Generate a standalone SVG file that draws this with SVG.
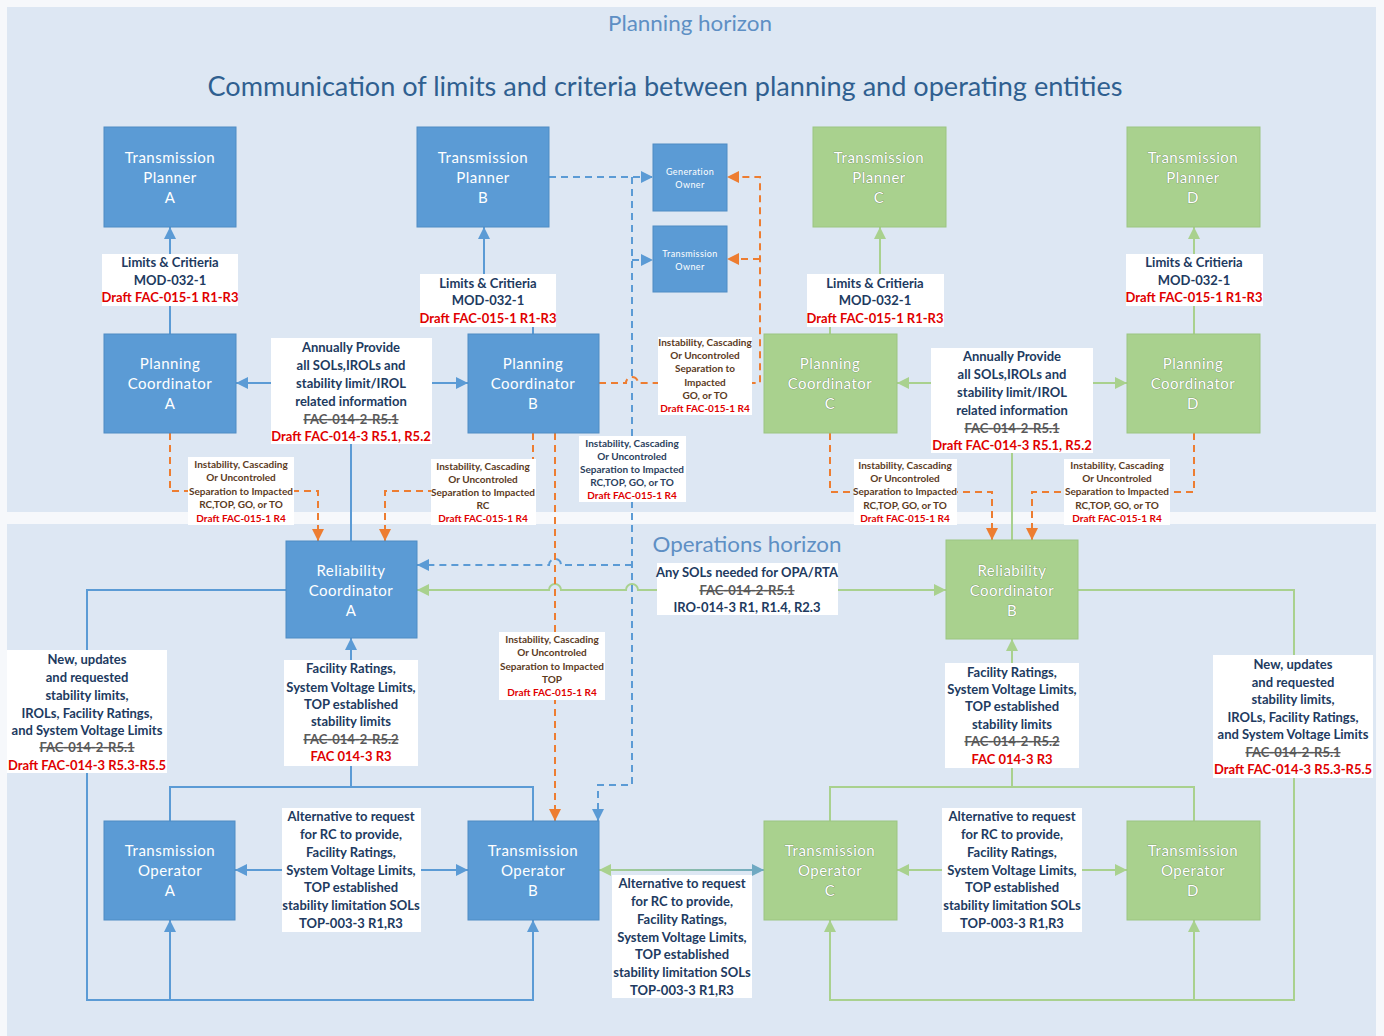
<svg xmlns="http://www.w3.org/2000/svg" width="1384" height="1036" viewBox="0 0 1384 1036">
<defs>
<style>
.bn{fill:#5b9bd5;stroke:#4f8cc4;stroke-width:1}
.gn{fill:#a9d18e;stroke:#9cc581;stroke-width:1}
.nt{font-family:Lato,"Open Sans","Liberation Sans",sans-serif;font-size:15px;fill:#ffffff;text-anchor:middle;letter-spacing:0.5px}
.gt{font-family:Lato,"Open Sans","Liberation Sans",sans-serif;font-size:15px;fill:#ffffff;text-anchor:middle;letter-spacing:0.5px;stroke:#6f8f5e;stroke-width:0.7px;paint-order:stroke}
.st{font-family:Lato,"Open Sans","Liberation Sans",sans-serif;font-size:9px;fill:#ffffff;text-anchor:middle;letter-spacing:0.4px}
.lb{fill:#ffffff}
.lt{font-family:Lato,"Liberation Sans",sans-serif;font-size:13px;font-weight:bold;fill:#213a60;text-anchor:middle}
.sm{font-family:Lato,"Liberation Sans",sans-serif;font-size:10px;font-weight:bold;fill:#5c3b1e;text-anchor:middle}
.smb{font-family:Lato,"Liberation Sans",sans-serif;font-size:10px;font-weight:bold;fill:#2c3f5e;text-anchor:middle}
.red{fill:#e00000}
.stk{fill:#5a5a5a;text-decoration:line-through}
.sb{fill:none;stroke:#5b9bd5;stroke-width:2}
.sg{fill:none;stroke:#a9d18e;stroke-width:2}
.db{fill:none;stroke:#5b9bd5;stroke-width:2;stroke-dasharray:7 5}
.do{fill:none;stroke:#ed7d31;stroke-width:2;stroke-dasharray:7 5}
.ttl{font-family:Lato,"Open Sans","Liberation Sans",sans-serif;fill:#5e8fc4;text-anchor:middle}
</style>
<marker id="ab" viewBox="0 0 12 12" refX="12" refY="6" markerWidth="12" markerHeight="12" markerUnits="userSpaceOnUse" orient="auto"><path d="M0,0 L12,6 L0,12 z" fill="#5b9bd5"/></marker>
<marker id="ag" viewBox="0 0 12 12" refX="12" refY="6" markerWidth="12" markerHeight="12" markerUnits="userSpaceOnUse" orient="auto"><path d="M0,0 L12,6 L0,12 z" fill="#a9d18e"/></marker>
<marker id="ao" viewBox="0 0 12 12" refX="12" refY="6" markerWidth="12" markerHeight="12" markerUnits="userSpaceOnUse" orient="auto"><path d="M0,0 L12,6 L0,12 z" fill="#ed7d31"/></marker>
<marker id="at" viewBox="0 0 12 12" refX="12" refY="6" markerWidth="12" markerHeight="12" markerUnits="userSpaceOnUse" orient="auto"><path d="M0,0 L12,6 L0,12 z" fill="#6fa9c2"/></marker>
<linearGradient id="tg" gradientUnits="userSpaceOnUse" x1="599" y1="0" x2="764" y2="0"><stop offset="0" stop-color="#a9d18e"/><stop offset="1" stop-color="#6fa9c2"/></linearGradient>
</defs>

<rect x="0" y="0" width="1384" height="1036" fill="#f6f8fb"/>
<rect x="7" y="7" width="1369" height="505" fill="#dde7f3"/>
<rect x="7" y="524" width="1369" height="512" fill="#dde7f3"/>

<text class="ttl" x="690" y="31" font-size="21" textLength="164" lengthAdjust="spacingAndGlyphs">Planning horizon</text>
<text x="665" y="96" font-family="Lato,'Open Sans','Liberation Sans',sans-serif" font-size="26" fill="#2f5f90" text-anchor="middle" textLength="915" lengthAdjust="spacingAndGlyphs">Communication of limits and criteria between planning and operating entities</text>
<text class="ttl" x="747" y="552" font-size="21" textLength="189" lengthAdjust="spacingAndGlyphs">Operations horizon</text>

<g id="connectors">
<path class="sb" d="M170,334 V227" marker-end="url(#ab)"/>
<path class="sb" d="M533,334 V300 H484 V227" marker-end="url(#ab)"/>
<path class="sb" d="M351,541 V383 H236" marker-end="url(#ab)"/>
<path class="sb" d="M351,383 H468" marker-end="url(#ab)"/>
<path class="sb" d="M286,590 H87 V1000 H533 V920" marker-end="url(#ab)"/>
<path class="sb" d="M170,1000 V920" marker-end="url(#ab)"/>
<path class="sb" d="M170,821 V787 H533 V821"/>
<path class="sb" d="M351,787 V638" marker-end="url(#ab)"/>
<path class="sb" d="M351,870 H235" marker-end="url(#ab)"/>
<path class="sb" d="M351,870 H468" marker-end="url(#ab)"/>
<path class="sg" d="M830,334 V300 H880 V227" marker-end="url(#ag)"/>
<path class="sg" d="M1194,334 V227" marker-end="url(#ag)"/>
<path class="sg" d="M1012,540 V383 H897" marker-end="url(#ag)"/>
<path class="sg" d="M1012,383 H1127" marker-end="url(#ag)"/>
<path class="sg" d="M700,590 H946" marker-end="url(#ag)"/>
<path class="sg" d="M700,590 H638 A6,6 0 0 0 626,590 H561 A6,6 0 0 0 549,590 H417" marker-end="url(#ag)"/>
<path class="sg" d="M1078,590 H1294 V1000 H830 V920" marker-end="url(#ag)"/>
<path class="sg" d="M1194,1000 V920" marker-end="url(#ag)"/>
<path class="sg" d="M830,821 V787 H1194 V821"/>
<path class="sg" d="M1012,787 V639" marker-end="url(#ag)"/>
<path class="sg" d="M1012,870 H897" marker-end="url(#ag)"/>
<path class="sg" d="M1012,870 H1127" marker-end="url(#ag)"/>
<path d="M682,870 H599" fill="none" stroke="url(#tg)" stroke-width="2" marker-end="url(#ag)"/>
<path d="M682,870 H764" fill="none" stroke="url(#tg)" stroke-width="2" marker-end="url(#at)"/>
<path class="do" d="M170,433 V491 H318 V541" marker-end="url(#ao)"/>
<path class="do" d="M533,433 V491 H385 V541" marker-end="url(#ao)"/>
<path class="do" d="M555,433 V821" marker-end="url(#ao)"/>
<path class="do" d="M599,383 H626 A6,6 0 0 1 638,383 H760 V177 H727" marker-end="url(#ao)"/>
<path class="do" d="M760,259 H727" marker-end="url(#ao)"/>
<path class="do" d="M830,433 V492 H992 V540" marker-end="url(#ao)"/>
<path class="do" d="M1194,433 V492 H1032 V540" marker-end="url(#ao)"/>
<path class="db" d="M549,177 H653" marker-end="url(#ab)"/>
<path class="db" d="M632,177 V785 H598 V821" marker-end="url(#ab)"/>
<path class="db" d="M632,260 H653" marker-end="url(#ab)"/>
<path class="db" d="M632,565 H561 A6,6 0 0 0 549,565 H417" marker-end="url(#ab)"/>

<g id="lbl-tpa">
<rect class="lb" x="102" y="254" width="136" height="52"/>
<text class="lt"><tspan x="170" y="267">Limits &amp; Critieria</tspan><tspan x="170" y="285">MOD-032-1</tspan><tspan class="red" x="170" y="302">Draft FAC-015-1 R1-R3</tspan></text>
</g>
<g id="lbl-tpb">
<rect class="lb" x="420" y="274" width="136" height="53"/>
<text class="lt"><tspan x="488" y="288">Limits &amp; Critieria</tspan><tspan x="488" y="305">MOD-032-1</tspan><tspan class="red" x="488" y="323">Draft FAC-015-1 R1-R3</tspan></text>
</g>
<g id="lbl-tpc">
<rect class="lb" x="807" y="274" width="137" height="53"/>
<text class="lt"><tspan x="875" y="288">Limits &amp; Critieria</tspan><tspan x="875" y="305">MOD-032-1</tspan><tspan class="red" x="875" y="323">Draft FAC-015-1 R1-R3</tspan></text>
</g>
<g id="lbl-tpd">
<rect class="lb" x="1126" y="254" width="137" height="52"/>
<text class="lt"><tspan x="1194" y="267">Limits &amp; Critieria</tspan><tspan x="1194" y="285">MOD-032-1</tspan><tspan class="red" x="1194" y="302">Draft FAC-015-1 R1-R3</tspan></text>
</g>
<g id="lbl-annual-ab">
<rect class="lb" x="271" y="338" width="161" height="106"/>
<text class="lt"><tspan x="351" y="352">Annually Provide</tspan><tspan x="351" y="370">all SOLs,IROLs and</tspan><tspan x="351" y="388">stability limit/IROL</tspan><tspan x="351" y="406">related information</tspan><tspan class="stk" x="351" y="424">FAC-014-2-R5.1</tspan><tspan class="red" x="351" y="441">Draft FAC-014-3 R5.1, R5.2</tspan></text>
</g>
<g id="lbl-annual-cd">
<rect class="lb" x="931" y="348" width="162" height="105"/>
<text class="lt"><tspan x="1012" y="361">Annually Provide</tspan><tspan x="1012" y="379">all SOLs,IROLs and</tspan><tspan x="1012" y="397">stability limit/IROL</tspan><tspan x="1012" y="415">related information</tspan><tspan class="stk" x="1012" y="433">FAC-014-2-R5.1</tspan><tspan class="red" x="1012" y="450">Draft FAC-014-3 R5.1, R5.2</tspan></text>
</g>
<g id="lbl-pca-rca">
<rect class="lb" x="188" y="457" width="106" height="68"/>
<text class="sm"><tspan x="241" y="468">Instability, Cascading</tspan><tspan x="241" y="481">Or Uncontroled</tspan><tspan x="241" y="495">Separation to Impacted</tspan><tspan x="241" y="508">RC,TOP, GO, or TO</tspan><tspan class="red" x="241" y="522">Draft FAC-015-1 R4</tspan></text>
</g>
<g id="lbl-pcb-rca">
<rect class="lb" x="431" y="459" width="105" height="66"/>
<text class="sm"><tspan x="483" y="470">Instability, Cascading</tspan><tspan x="483" y="483">Or Uncontroled</tspan><tspan x="483" y="496">Separation to Impacted</tspan><tspan x="483" y="509">RC</tspan><tspan class="red" x="483" y="522">Draft FAC-015-1 R4</tspan></text>
</g>
<g id="lbl-tpb-dashed">
<rect class="lb" x="579" y="436" width="107" height="66"/>
<text class="smb"><tspan x="632" y="447">Instability, Cascading</tspan><tspan x="632" y="460">Or Uncontroled</tspan><tspan x="632" y="473">Separation to Impacted</tspan><tspan x="632" y="486">RC,TOP, GO, or TO</tspan><tspan class="red" x="632" y="499">Draft FAC-015-1 R4</tspan></text>
</g>
<g id="lbl-pcb-go">
<rect class="lb" x="658" y="337" width="94" height="78"/>
<text class="sm"><tspan x="705" y="346">Instability, Cascading</tspan><tspan x="705" y="359">Or Uncontroled</tspan><tspan x="705" y="372">Separation to</tspan><tspan x="705" y="386">Impacted</tspan><tspan x="705" y="399">GO, or TO</tspan><tspan class="red" x="705" y="412">Draft FAC-015-1 R4</tspan></text>
</g>
<g id="lbl-pcc-rcb">
<rect class="lb" x="854" y="459" width="103" height="66"/>
<text class="sm"><tspan x="905" y="469">Instability, Cascading</tspan><tspan x="905" y="482">Or Uncontroled</tspan><tspan x="905" y="495">Separation to Impacted</tspan><tspan x="905" y="509">RC,TOP, GO, or TO</tspan><tspan class="red" x="905" y="522">Draft FAC-015-1 R4</tspan></text>
</g>
<g id="lbl-pcd-rcb">
<rect class="lb" x="1064" y="459" width="106" height="66"/>
<text class="sm"><tspan x="1117" y="469">Instability, Cascading</tspan><tspan x="1117" y="482">Or Uncontroled</tspan><tspan x="1117" y="495">Separation to Impacted</tspan><tspan x="1117" y="509">RC,TOP, GO, or TO</tspan><tspan class="red" x="1117" y="522">Draft FAC-015-1 R4</tspan></text>
</g>
<g id="lbl-pcb-tob">
<rect class="lb" x="499" y="632" width="106" height="68"/>
<text class="sm"><tspan x="552" y="643">Instability, Cascading</tspan><tspan x="552" y="656">Or Uncontroled</tspan><tspan x="552" y="670">Separation to Impacted</tspan><tspan x="552" y="683">TOP</tspan><tspan class="red" x="552" y="696">Draft FAC-015-1 R4</tspan></text>
</g>
<g id="lbl-rc-rc">
<rect class="lb" x="657" y="563" width="181" height="52"/>
<text class="lt" font-size="13.5"><tspan x="747" y="577">Any SOLs needed for OPA/RTA</tspan><tspan class="stk" x="747" y="595">FAC-014-2-R5.1</tspan><tspan x="747" y="612">IRO-014-3 R1, R1.4, R2.3</tspan></text>
</g>
<g id="lbl-new-a">
<rect class="lb" x="7" y="650" width="160" height="123"/>
<text class="lt"><tspan x="87" y="664">New, updates</tspan><tspan x="87" y="682">and requested</tspan><tspan x="87" y="700">stability limits,</tspan><tspan x="87" y="718">IROLs, Facility Ratings,</tspan><tspan x="87" y="735">and System Voltage Limits</tspan><tspan class="stk" x="87" y="752">FAC-014-2-R5.1</tspan><tspan class="red" x="87" y="770">Draft FAC-014-3 R5.3-R5.5</tspan></text>
</g>
<g id="lbl-fac-a">
<rect class="lb" x="284" y="660" width="134" height="106"/>
<text class="lt"><tspan x="351" y="673">Facility Ratings,</tspan><tspan x="351" y="692">System Voltage Limits,</tspan><tspan x="351" y="709">TOP established</tspan><tspan x="351" y="726">stability limits</tspan><tspan class="stk" x="351" y="744">FAC-014-2-R5.2</tspan><tspan class="red" x="351" y="761">FAC 014-3 R3</tspan></text>
</g>
<g id="lbl-fac-b">
<rect class="lb" x="945" y="663" width="134" height="105"/>
<text class="lt"><tspan x="1012" y="677">Facility Ratings,</tspan><tspan x="1012" y="694">System Voltage Limits,</tspan><tspan x="1012" y="711">TOP established</tspan><tspan x="1012" y="729">stability limits</tspan><tspan class="stk" x="1012" y="746">FAC-014-2-R5.2</tspan><tspan class="red" x="1012" y="764">FAC 014-3 R3</tspan></text>
</g>
<g id="lbl-new-b">
<rect class="lb" x="1213" y="655" width="160" height="123"/>
<text class="lt"><tspan x="1293" y="669">New, updates</tspan><tspan x="1293" y="687">and requested</tspan><tspan x="1293" y="704">stability limits,</tspan><tspan x="1293" y="722">IROLs, Facility Ratings,</tspan><tspan x="1293" y="739">and System Voltage Limits</tspan><tspan class="stk" x="1293" y="757">FAC-014-2-R5.1</tspan><tspan class="red" x="1293" y="774">Draft FAC-014-3 R5.3-R5.5</tspan></text>
</g>
<g id="lbl-alt-ab">
<rect class="lb" x="282" y="808" width="139" height="124"/>
<text class="lt"><tspan x="351" y="821">Alternative to request</tspan><tspan x="351" y="839">for RC to provide,</tspan><tspan x="351" y="857">Facility Ratings,</tspan><tspan x="351" y="875">System Voltage Limits,</tspan><tspan x="351" y="892">TOP established</tspan><tspan x="351" y="910">stability limitation SOLs</tspan><tspan x="351" y="928">TOP-003-3 R1,R3</tspan></text>
</g>
<g id="lbl-alt-bc">
<rect class="lb" x="612" y="875" width="140" height="123"/>
<text class="lt"><tspan x="682" y="888">Alternative to request</tspan><tspan x="682" y="906">for RC to provide,</tspan><tspan x="682" y="924">Facility Ratings,</tspan><tspan x="682" y="942">System Voltage Limits,</tspan><tspan x="682" y="959">TOP established</tspan><tspan x="682" y="977">stability limitation SOLs</tspan><tspan x="682" y="995">TOP-003-3 R1,R3</tspan></text>
</g>
<g id="lbl-alt-cd">
<rect class="lb" x="942" y="808" width="140" height="124"/>
<text class="lt"><tspan x="1012" y="821">Alternative to request</tspan><tspan x="1012" y="839">for RC to provide,</tspan><tspan x="1012" y="857">Facility Ratings,</tspan><tspan x="1012" y="875">System Voltage Limits,</tspan><tspan x="1012" y="892">TOP established</tspan><tspan x="1012" y="910">stability limitation SOLs</tspan><tspan x="1012" y="928">TOP-003-3 R1,R3</tspan></text>
</g>
</g>

<g id="tp-a"><rect class="bn" x="104" y="127" width="132" height="100"/><text class="nt"><tspan x="170" y="163">Transmission</tspan><tspan x="170" y="183">Planner</tspan><tspan x="170" y="203">A</tspan></text></g>
<g id="tp-b"><rect class="bn" x="417" y="127" width="132" height="100"/><text class="nt"><tspan x="483" y="163">Transmission</tspan><tspan x="483" y="183">Planner</tspan><tspan x="483" y="203">B</tspan></text></g>
<g id="gen-owner"><rect class="bn" x="653" y="144" width="74" height="67"/><text class="st"><tspan x="690" y="175">Generation</tspan><tspan x="690" y="188">Owner</tspan></text></g>
<g id="trans-owner"><rect class="bn" x="653" y="226" width="74" height="66"/><text class="st"><tspan x="690" y="257">Transmission</tspan><tspan x="690" y="270">Owner</tspan></text></g>
<g id="tp-c"><rect class="gn" x="813" y="127" width="133" height="100"/><text class="gt"><tspan x="879" y="163">Transmission</tspan><tspan x="879" y="183">Planner</tspan><tspan x="879" y="203">C</tspan></text></g>
<g id="tp-d"><rect class="gn" x="1127" y="127" width="133" height="100"/><text class="gt"><tspan x="1193" y="163">Transmission</tspan><tspan x="1193" y="183">Planner</tspan><tspan x="1193" y="203">D</tspan></text></g>
<g id="pc-a"><rect class="bn" x="104" y="334" width="132" height="99"/><text class="nt"><tspan x="170" y="369">Planning</tspan><tspan x="170" y="389">Coordinator</tspan><tspan x="170" y="409">A</tspan></text></g>
<g id="pc-b"><rect class="bn" x="468" y="334" width="131" height="99"/><text class="nt"><tspan x="533" y="369">Planning</tspan><tspan x="533" y="389">Coordinator</tspan><tspan x="533" y="409">B</tspan></text></g>
<g id="pc-c"><rect class="gn" x="764" y="334" width="133" height="99"/><text class="gt"><tspan x="830" y="369">Planning</tspan><tspan x="830" y="389">Coordinator</tspan><tspan x="830" y="409">C</tspan></text></g>
<g id="pc-d"><rect class="gn" x="1127" y="334" width="133" height="99"/><text class="gt"><tspan x="1193" y="369">Planning</tspan><tspan x="1193" y="389">Coordinator</tspan><tspan x="1193" y="409">D</tspan></text></g>
<g id="rc-a"><rect class="bn" x="286" y="541" width="131" height="97"/><text class="nt"><tspan x="351" y="576">Reliability</tspan><tspan x="351" y="596">Coordinator</tspan><tspan x="351" y="616">A</tspan></text></g>
<g id="rc-b"><rect class="gn" x="946" y="540" width="132" height="99"/><text class="gt"><tspan x="1012" y="576">Reliability</tspan><tspan x="1012" y="596">Coordinator</tspan><tspan x="1012" y="616">B</tspan></text></g>
<g id="to-a"><rect class="bn" x="104" y="821" width="131" height="99"/><text class="nt"><tspan x="170" y="856">Transmission</tspan><tspan x="170" y="876">Operator</tspan><tspan x="170" y="896">A</tspan></text></g>
<g id="to-b"><rect class="bn" x="468" y="821" width="131" height="99"/><text class="nt"><tspan x="533" y="856">Transmission</tspan><tspan x="533" y="876">Operator</tspan><tspan x="533" y="896">B</tspan></text></g>
<g id="to-c"><rect class="gn" x="764" y="821" width="133" height="99"/><text class="gt"><tspan x="830" y="856">Transmission</tspan><tspan x="830" y="876">Operator</tspan><tspan x="830" y="896">C</tspan></text></g>
<g id="to-d"><rect class="gn" x="1127" y="821" width="133" height="99"/><text class="gt"><tspan x="1193" y="856">Transmission</tspan><tspan x="1193" y="876">Operator</tspan><tspan x="1193" y="896">D</tspan></text></g>
</svg>
